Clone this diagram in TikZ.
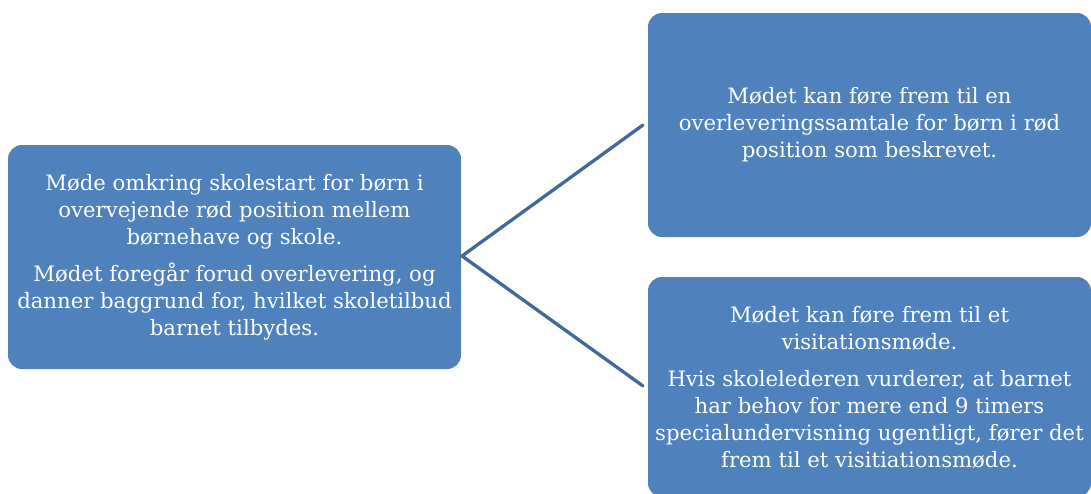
\documentclass[tikz,border=0pt]{standalone}
\usepackage{fontspec}
\setmainfont{DejaVu Serif}
\definecolor{boxblue}{HTML}{4F81BD}
\definecolor{lineblue}{HTML}{41699A}
\begin{document}
\begin{tikzpicture}[x=1pt,y=-1pt,
  infobox/.style={draw=none, fill=boxblue, rounded corners=14pt, text=white,
    align=center, inner sep=0pt, font=\fontsize{21.2}{27}\selectfont},
  link/.style={draw=lineblue, line width=3.3pt, line cap=round}]
\useasboundingbox (0,0) rectangle (1091,493);
\fill[white] (0,0) rectangle (1091,493);
\clip (0,0) rectangle (1091,493);
\node[infobox, minimum width=453pt, minimum height=224pt] (left) at (234.5,257)
  {Møde omkring skolestart for børn i\\ overvejende rød position mellem\\ børnehave og skole.\\[10pt]
   Mødet foregår forud overlevering, og\\ danner baggrund for, hvilket skoletilbud\\ barnet tilbydes.};
\node[infobox, minimum width=443pt, minimum height=224pt] (top) at (869.5,125)
  {Mødet kan føre frem til en\\ overleveringssamtale for børn i rød\\ position som beskrevet.};
\node[infobox, minimum width=443pt, minimum height=220pt] (bot) at (869.5,387)
  {Mødet kan føre frem til et\\ visitationsmøde.\\[10pt]
   Hvis skolelederen vurderer, at barnet\\ har behov for mere end 9 timers\\ specialundervisning ugentligt, fører det\\ frem til et visitiationsmøde.};
\coordinate (v) at (462,256);
\coordinate (te) at (643,125);
\coordinate (be) at (643,386);
\draw[link] (te) -- (v) -- (be);
\end{tikzpicture}
\end{document}
